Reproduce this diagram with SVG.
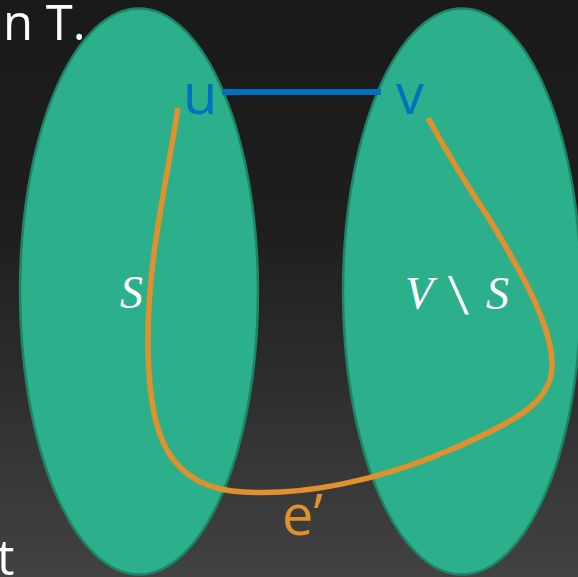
<svg xmlns="http://www.w3.org/2000/svg" width="578" height="577" viewBox="0 0 578 577">
<defs>
<linearGradient id="bg" x1="0" y1="0" x2="0" y2="1">
<stop offset="0" stop-color="#1a1a1a"/>
<stop offset="0.4" stop-color="#1e1e1e"/>
<stop offset="1" stop-color="#424242"/>
</linearGradient>
</defs>
<style>
.set{fill:#2cb08b;stroke:#1e8466;stroke-width:2.5}
.lbl{font-family:"Open Sans","Liberation Sans",sans-serif}
.math{font-family:"Liberation Serif",serif;font-style:italic;fill:#ffffff;font-size:46px}
</style>
<rect width="578" height="577" fill="url(#bg)"/>
<text class="lbl" x="3" y="40" font-size="49" fill="#ffffff">n T.</text>
<text class="lbl" x="-3" y="575" font-size="49" fill="#ffffff">t</text>
<g id="S">
<ellipse class="set" cx="139" cy="291.5" rx="119" ry="283"/>
<text class="math" x="120" y="308">S</text>
</g>
<g id="VS">
<ellipse class="set" cx="462" cy="291.5" rx="119" ry="283"/>
<text class="math" x="405" y="309">V<tspan x="486">S</tspan></text>
<text transform="translate(448,314) scale(1.3,1)" font-family="Liberation Serif, serif" font-size="58" fill="#ffffff">\</text>
</g>
<g id="connectors">
<line x1="222" y1="92" x2="381" y2="92" stroke="#0070c0" stroke-width="6"/>
<path d="M178,108 C165,190 148,260 148,340 C148,420 160,482 232,491 C300,498 380,480 450,450 C520,420 555,400 552,360 C549,320 520,270 490,220 C460,175 440,140 428,118" fill="none" stroke="#e0902c" stroke-width="5.5"/>
</g>
<g id="u"><text class="lbl" x="183" y="114" font-size="56" fill="#0070c0">u</text></g>
<g id="v"><text class="lbl" x="396" y="114" font-size="56" fill="#0070c0">v</text></g>
<g id="e"><text class="lbl" x="282" y="535" font-size="56" fill="#e0902c">e’</text></g>
</svg>
